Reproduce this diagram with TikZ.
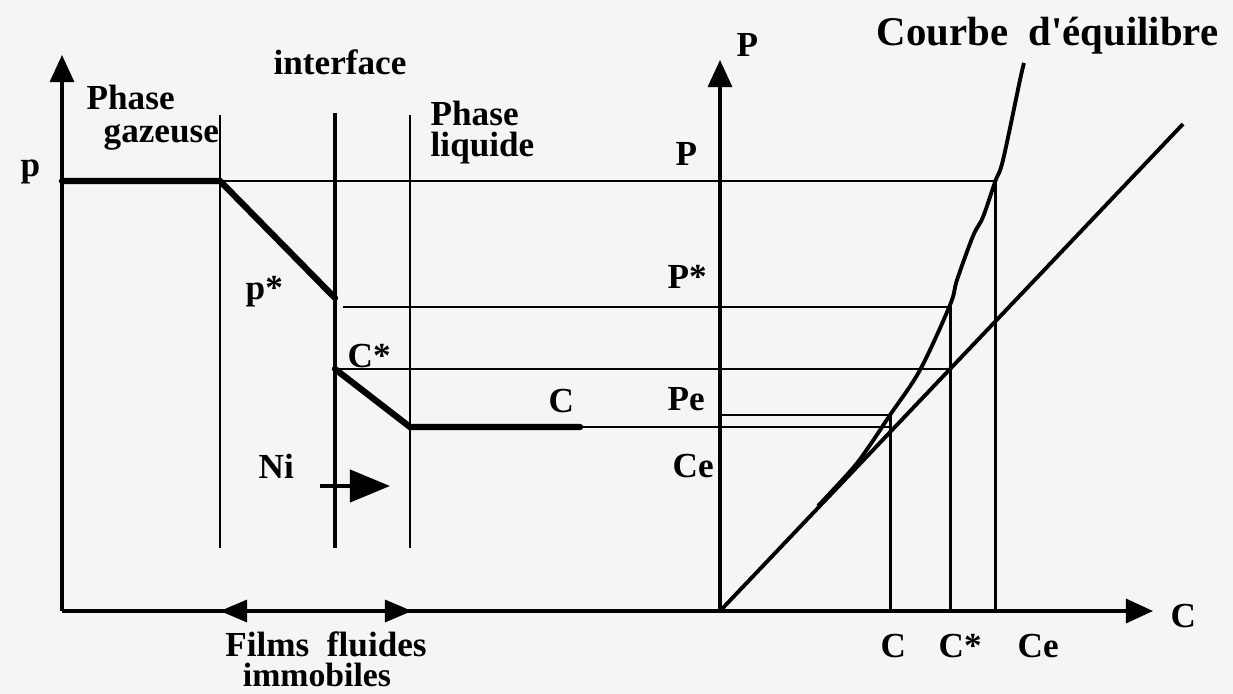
\documentclass[tikz,border=0pt]{standalone}
\usepackage{fontspec}
\setmainfont{Liberation Serif}
\usetikzlibrary{arrows.meta}

\begin{document}
\begin{tikzpicture}[
    x=0.01cm, y=-0.01cm,
    txt/.style={
        inner sep=0pt,
        anchor=base west,
        font=\fontsize{10}{12}\selectfont\bfseries
    },
    title/.style={
        inner sep=0pt,
        anchor=base west,
        font=\fontsize{11.6}{14}\selectfont\bfseries
    },
    guide/.style={line width=0.85pt},
    wall/.style={line width=1.2pt},
    profile/.style={line width=1.8pt, line cap=round},
    curve/.style={line width=1.1pt},
    axis/.style={line width=0.9pt, -{Triangle[length=0.27cm, width=0.24cm]}},
    film/.style={line width=0.9pt, {Triangle[length=0.27cm, width=0.22cm]}-{Triangle[length=0.27cm, width=0.22cm]}},
    flux/.style={line width=1.2pt, -{Triangle[length=0.4cm, width=0.32cm]}}
]

\fill[black!4] (0,0) rectangle (1233,694);
\useasboundingbox (0,0) rectangle (1233,694);

\coordinate (o1) at (62,611);
\coordinate (y1) at (62,55);
\coordinate (o2) at (720,611);
\coordinate (y2) at (720,60);
\coordinate (x2) at (1153,611);

\coordinate (gas-top) at (220,115);
\coordinate (gas-bot) at (220,548);
\coordinate (int-top) at (335,113);
\coordinate (int-bot) at (335,548);
\coordinate (liq-top) at (410,115);
\coordinate (liq-bot) at (410,548);

\coordinate (p0) at (62,181);
\coordinate (p1) at (220,181);
\coordinate (pint) at (335,298);
\coordinate (cint) at (335,369);
\coordinate (c1) at (410,427);
\coordinate (c2) at (580,427);

\coordinate (pce) at (995,181);
\coordinate (ce-bot) at (995,611);
\coordinate (pst) at (343,307);
\coordinate (pst-e) at (950,307);
\coordinate (cst-e) at (950,369);
\coordinate (cst-bot) at (950,611);
\coordinate (pe-a) at (720,415);
\coordinate (pe-e) at (890,415);
\coordinate (c-e) at (890,427);
\coordinate (c-bot) at (890,611);
\coordinate (op-end) at (1183,124);

\coordinate (film-l) at (220,611);
\coordinate (film-r) at (412,611);
\coordinate (ni-a) at (320,486);
\coordinate (ni-b) at (390,486);

\draw[axis] (o1) -- (y1);
\draw[axis] (o1) -- (x2);
\draw[axis] (o2) -- (y2);
\draw[film] (film-l) -- (film-r);

\draw[guide] (gas-top) -- (gas-bot);
\draw[wall] (int-top) -- (int-bot);
\draw[guide] (liq-top) -- (liq-bot);

\draw[guide] (p1) -- (pce) -- (ce-bot);
\draw[guide] (pst) -- (pst-e) -- (cst-bot);
\draw[guide] (cint) -- (cst-e);
\draw[guide] (pe-a) -- (pe-e) -- (c-bot);
\draw[guide] (c1) -- (c-e);

\draw[profile] (p0) -- (p1) -- (pint);
\draw[profile] (cint) -- (c1) -- (c2);

\draw[curve] (o2) -- (op-end);
\draw[curve] plot[smooth, tension=0.55] coordinates {
    (818,506) (853,468) (870,445) (890,415) (920,370) (950,305)
    (957,280) (973,236) (983,217) (995,182) (1003,160) (1020,80) (1024,63)};

\draw[flux] (ni-a) -- (ni-b);

\node[txt] (lp) at (20,176) {p};
\node[txt] (gas1) at (86,110) {Phase};
\node[txt] (gas2) at (103,142) {gazeuse};
\node[txt, anchor=base] (interf) at (340,74) {interface};
\node[txt] (liq1) at (430,125) {Phase};
\node[txt] (liq2) at (430,156) {liquide};
\node[txt] (lpst) at (245,299) {p*};
\node[txt] (lcst) at (347,367) {C*};
\node[txt] (lc) at (548,412) {C};
\node[txt] (lni) at (258,478) {Ni};

\node[txt] (lP) at (736,57) {P};
\node[title] (courbe) at (876,45) {Courbe\ \ d\textquotesingle équilibre};
\node[txt] (lPa) at (675,165) {P};
\node[txt] (lPst) at (667,288) {P*};
\node[txt] (lPe) at (667,410) {Pe};
\node[txt] (lCe) at (672,477) {Ce};

\node[txt] (bC) at (880,657) {C};
\node[txt] (bCst) at (938,657) {C*};
\node[txt] (bCe) at (1017,657) {Ce};
\node[txt] (axC) at (1170,627) {C};

\node[txt, anchor=base] (films) at (326,656) {Films\ \ fluides};
\node[txt, anchor=base, font=\fontsize{9.6}{12}\selectfont\bfseries]
    (immob) at (317,686) {immobiles};

\end{tikzpicture}
\end{document}
